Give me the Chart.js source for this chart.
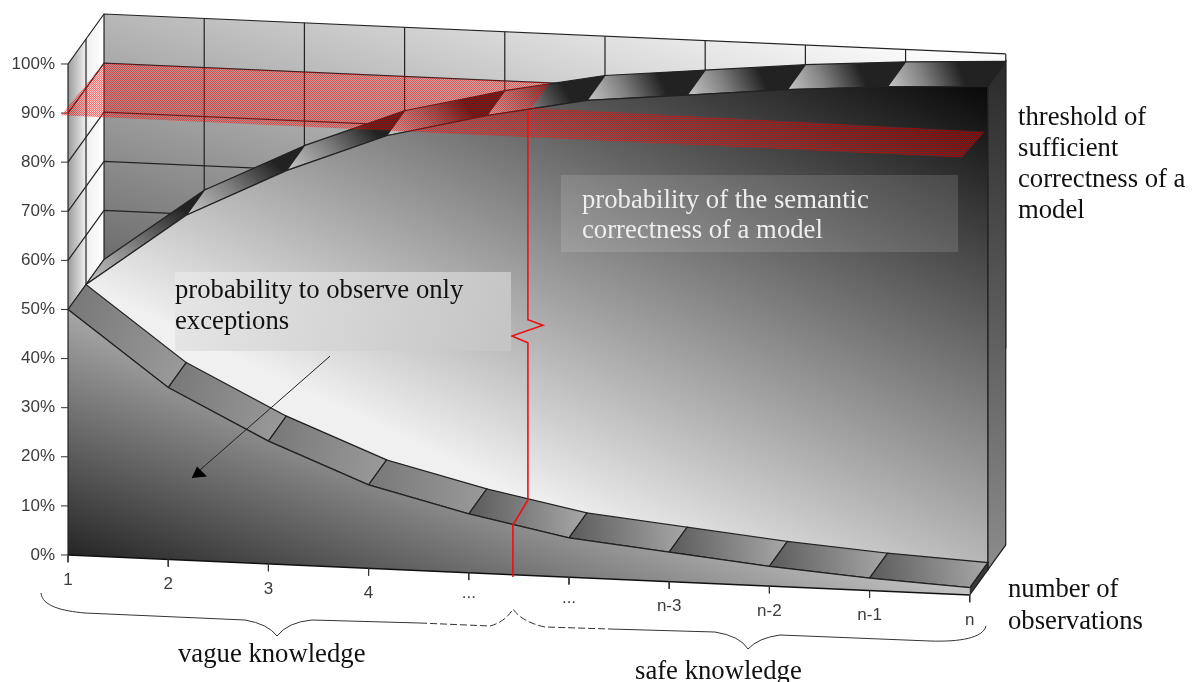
<!DOCTYPE html>
<html>
<head>
<meta charset="utf-8">
<title>probability of correctness</title>
<script src="https://cdn.jsdelivr.net/npm/chart.js@4/dist/chart.umd.min.js"></script>
<style>
  html, body { margin: 0; padding: 0; background: #fff; }
  canvas { display: block; }
</style>
</head>
<body>
<canvas id="chart" width="1192" height="682"></canvas>
<script>
// data
const categories = ['1', '2', '3', '4', '...', '...', 'n-3', 'n-2', 'n-1', 'n'];
const exceptionsProb = [50, 35, 25, 17, 12, 8, 6, 4, 2.5, 1.5];
const correctnessProb = [50, 65, 75, 83, 88, 92, 94, 96, 97.5, 98.5];
const percentTicks = [0, 10, 20, 30, 40, 50, 60, 70, 80, 90, 100];

// threshold plane, corners as category / percent / depth
const thresholdCat = [-0.07, 0, 4.45, 4.45, 8.97, 8.92];
const thresholdPct = [89.5, 90, 90, 90, 89.2, 89];
const thresholdDepth = [0, 1, 1, 0.5, 0.5, 0];

// boundary vague/safe and the arrow, in axis units
const boundaryCat = [4.59, 4.59, 4.74, 4.43, 4.59, 4.59, 4.44, 4.44];
const boundaryPct = [90.6, 47.9, 46.8, 44.6, 43.2, 11.2, 6.1, -4.5];
const arrowCat = [2.615, 1.3];
const arrowPct = [40.5, 17];
const arrowHeadCat = [1.235, 1.287, 1.387, 1.235];
const arrowHeadPct = [15.7, 18, 16, 15.7];

// oblique projection: depth 0 = front, depth 1 = back wall
const DEPTH_X = 0.3593;
const DEPTH_Y = 10.18;
const SLOPE = 0.904;
const p = (i, v, d) => ({ x: i + d * DEPTH_X, y: v + d * DEPTH_Y - i * SLOPE });

const last = categories.length - 1;
const layers = []; // back to front

function poly(points, fill, line, width) {
  layers.push({
    data: points,
    fill: fill ? 'shape' : false,
    backgroundColor: fill || 'transparent',
    borderColor: line || 'transparent',
    borderWidth: line ? (width || 1.2) : 0
  });
}

// scriptable gradient in canvas pixels
function grad(x0, y0, x1, y1, stops) {
  return ctx => {
    const c = ctx.chart;
    if (!c.chartArea) return stops[0];
    const g = c.ctx.createLinearGradient(x0, y0, x1, y1);
    stops.forEach((s, k) => g.addColorStop(k / (stops.length - 1), s));
    return g;
  };
}

// same, but between two projected points
function gradP(a, b, stops) {
  return ctx => {
    const c = ctx.chart;
    if (!c.chartArea) return stops[0];
    const g = c.ctx.createLinearGradient(
      c.scales.x.getPixelForValue(a.x), c.scales.y.getPixelForValue(a.y),
      c.scales.x.getPixelForValue(b.x), c.scales.y.getPixelForValue(b.y));
    stops.forEach((s, k) => g.addColorStop(k / (stops.length - 1), s));
    return g;
  };
}

// dither used by the threshold plane
function redPattern() {
  const t = document.createElement('canvas');
  t.width = t.height = 2;
  const c = t.getContext('2d');
  c.fillStyle = 'rgba(245,0,0,0.55)';
  c.fillRect(0, 0, 1, 1);
  c.fillRect(1, 1, 1, 1);
  c.fillStyle = 'rgba(255,40,40,0.2)';
  c.fillRect(1, 0, 1, 1);
  c.fillRect(0, 1, 1, 1);
  return document.getElementById('chart').getContext('2d').createPattern(t, 'repeat');
}

// walls
poly([p(0, 100, 0), p(0, 100, 1), p(0, 0, 1), p(0, 0, 0)],
  grad(68, 0, 104, 0, ['#9c9c9c', '#f0f0f0', '#ffffff']));
poly([p(0, 100, 1), p(last, 100, 1), p(last, 0, 1), p(0, 0, 1)],
  grad(104, 265, 238, -160, ['#6b6b6b', '#fafafa']));

// grid on the walls
percentTicks.filter(v => v >= 50).forEach(v => {
  poly([p(0, v, 0), p(0, v, 1), p(last, v, 1)], null, '#222');
});
categories.forEach((c, i) => poly([p(i, 100, 1), p(i, 40, 1)], null, '#222'));
poly([p(0, 100, 0.5), p(0, 50, 0.5)], null, '#222');

// side wall of the back series
poly([p(last, 0, 0.5), p(last, 0, 1), p(last, correctnessProb[last], 1), p(last, correctnessProb[last], 0.5), p(last, 0, 0.5)],
  grad(0, 60, 0, 570, ['#2a2a2a', '#8c8c8c']), '#222');

// back series: top ribbon then face
correctnessProb.slice(0, last).forEach((v, i) => {
  const n = correctnessProb[i + 1];
  poly([p(i, v, 0.5), p(i + 1, n, 0.5), p(i + 1, n, 1), p(i, v, 1), p(i, v, 0.5)],
    gradP(p(i, v, 0.5), p(i + 0.5, n, 1), ['#c8c8c8', '#808080', '#222222']), '#222');
});
poly(correctnessProb.map((v, i) => p(i, v, 0.5)).concat([p(last, 0, 0.5), p(0, 0, 0.5)]),
  grad(985, 90, 740, 600, ['#0a0a0a', '#f0f0f0']), '#222');

// front series: right side, top ribbon, face
poly([p(last, 0, 0), p(last, 0, 0.5), p(last, exceptionsProb[last], 0.5), p(last, exceptionsProb[last], 0), p(last, 0, 0)],
  '#3a3a3a', '#222');
exceptionsProb.slice(0, last).forEach((v, i) => {
  const n = exceptionsProb[i + 1];
  const stops = i < 4 ? ['#787878', '#9a9a9a'] : ['#5a5a5a', '#a8a8a8'];
  poly([p(i, v, 0), p(i + 1, n, 0), p(i + 1, n, 0.5), p(i, v, 0.5), p(i, v, 0)],
    gradP(p(i, v, 0), p(i + 1, n, 0.5), stops), '#222');
});
poly(exceptionsProb.map((v, i) => p(i, v, 0)).concat([p(last, 0, 0), p(0, 0, 0)]),
  grad(68, 570, 173, 286, ['#1e1e1e', '#c8c8c8']));
poly(exceptionsProb.map((v, i) => p(i, v, 0)), null, '#222');

// axis lines and ticks
poly([p(0, 100, 0), p(0, 0, 0)], null, '#222');
poly([p(0, 0, 0), p(last, 0, 0)], null, '#111', 1.6);
percentTicks.forEach(v => poly([{ x: -0.07, y: v }, p(0, v, 0)], null, '#333', 1));
categories.forEach((c, i) => poly([p(i, 0, 0), p(i, -1.5, 0)], null, '#333', 1));

// threshold plane above the surfaces, annotation lines above that
poly(thresholdCat.map((c, k) => p(c, thresholdPct[k], thresholdDepth[k])), redPattern());
poly(boundaryCat.map((c, k) => ({ x: c, y: boundaryPct[k] })), null, '#ee1111', 1.6);
poly(arrowCat.map((c, k) => ({ x: c, y: arrowPct[k] })), null, '#222', 1);
poly(arrowHeadCat.map((c, k) => ({ x: c, y: arrowHeadPct[k] })), '#000');

const chart = new Chart(document.getElementById('chart'), {
  type: 'line',
  data: { datasets: layers.slice().reverse() },
  options: {
    responsive: false,
    animation: false,
    layout: { padding: 0 },
    elements: { point: { radius: 0 }, line: { tension: 0, borderJoinStyle: 'miter' } },
    plugins: { legend: { display: false }, tooltip: { enabled: false } },
    scales: {
      x: { type: 'linear', display: false, min: -0.08, max: 11.218 },
      y: {
        type: 'linear',
        min: -25.87,
        max: 113.03,
        afterBuildTicks: s => { s.ticks = percentTicks.map(v => ({ value: v })); },
        afterFit: s => { s.width = 60; s.paddingTop = 0; s.paddingBottom = 0; },
        grid: { display: false, drawTicks: false },
        border: { display: false },
        ticks: {
          autoSkip: false,
          padding: 5,
          color: '#3c3c3c',
          font: { family: 'Liberation Sans', size: 17 },
          callback: v => v + '%'
        }
      }
    }
  },
  plugins: [{
    id: 'notes',
    afterDatasetsDraw(c) {
      const g = c.ctx;
      const xs = c.scales.x, ys = c.scales.y;
      g.save();

      // text boxes
      const b1 = g.createLinearGradient(175, 272, 511, 351);
      b1.addColorStop(0, '#e6e6e6');
      b1.addColorStop(1, '#c4c4c4');
      g.fillStyle = b1;
      g.fillRect(175, 272, 336, 79);
      g.fillStyle = 'rgba(255,255,255,0.13)';
      g.fillRect(561, 175, 397, 77);

      // category labels under the sloped axis
      g.font = '17px "Liberation Sans"';
      g.fillStyle = '#3c3c3c';
      g.textAlign = 'center';
      g.textBaseline = 'middle';
      categories.forEach((t, i) => {
        const q = p(i, 0, 0);
        g.fillText(t, xs.getPixelForValue(q.x), ys.getPixelForValue(q.y) + (t === '...' ? 21 : 25));
      });

      // braces
      g.strokeStyle = '#333';
      g.lineWidth = 1;
      g.beginPath();
      g.moveTo(41, 593);
      g.bezierCurveTo(42, 606, 62, 611, 85, 613);
      g.lineTo(245, 620);
      g.quadraticCurveTo(268, 624, 277, 636);
      g.quadraticCurveTo(288, 622, 312, 620);
      g.lineTo(420, 623);
      g.stroke();
      g.setLineDash([7, 3]);
      g.beginPath();
      g.moveTo(420, 623);
      g.lineTo(490, 626);
      g.quadraticCurveTo(505, 622, 513, 609);
      g.quadraticCurveTo(522, 622, 545, 627);
      g.lineTo(610, 629);
      g.stroke();
      g.setLineDash([]);
      g.beginPath();
      g.moveTo(610, 629);
      g.lineTo(715, 632);
      g.quadraticCurveTo(740, 636, 748, 649);
      g.quadraticCurveTo(758, 638, 780, 635);
      g.lineTo(930, 641);
      g.bezierCurveTo(960, 642, 983, 638, 986, 626);
      g.stroke();

      // texts
      g.textAlign = 'left';
      g.textBaseline = 'middle';
      g.font = '26.7px "Liberation Serif"';
      g.fillStyle = '#111';
      g.fillText('probability to observe only', 175, 291);
      g.fillText('exceptions', 175, 322);
      ['threshold of', 'sufficient', 'correctness of a', 'model'].forEach((t, k) => {
        g.fillText(t, 1018, 118 + k * 31);
      });
      g.fillText('number of', 1008, 590);
      g.fillText('observations', 1008, 622);
      g.fillText('vague knowledge', 178, 655);
      g.fillText('safe knowledge', 635, 672);
      g.fillStyle = '#eeeeee';
      g.fillText('probability of the semantic', 582, 201);
      g.fillText('correctness of a model', 582, 231);
      g.restore();
    }
  }]
});
</script>
</body>
</html>
